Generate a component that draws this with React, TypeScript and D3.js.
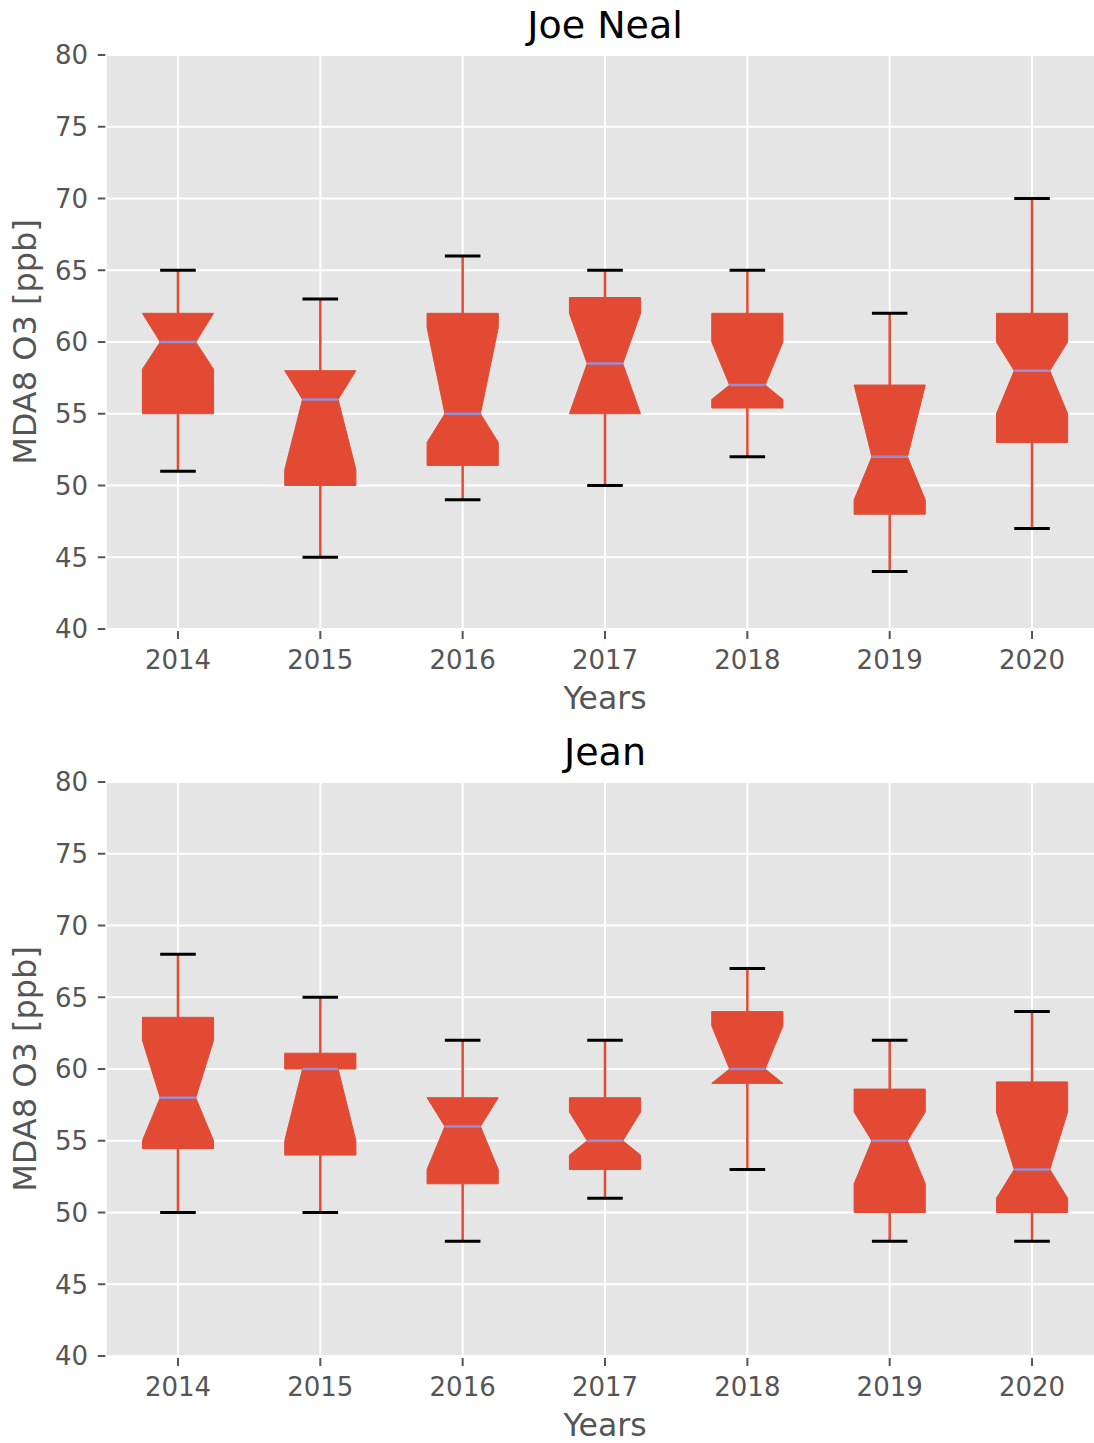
import React from "react";
import * as d3 from "d3";

const years = ["2014", "2015", "2016", "2017", "2018", "2019", "2020"];
const yTicks = [40, 45, 50, 55, 60, 65, 70, 75, 80];

const titles = ["Joe Neal", "Jean"];

// Joe Neal
const joeWhiskerLo = [51, 45, 49, 50, 52, 44, 47];
const joeQ1 = [55, 50, 51.4, 55, 55.4, 48, 53];
const joeNotchLo = [58.1, 51.1, 53, 55, 56, 49, 55];
const joeMedian = [60, 56, 55, 58.5, 57, 52, 58];
const joeNotchHi = [62, 58, 61, 62, 60, 57, 60];
const joeQ3 = [62, 58, 62, 63.1, 62, 57, 62];
const joeWhiskerHi = [65, 63, 66, 65, 65, 62, 70];

// Jean
const jeanWhiskerLo = [50, 50, 48, 51, 53, 48, 48];
const jeanQ1 = [54.45, 54, 52, 53, 59, 50, 50];
const jeanNotchLo = [55, 55, 53, 54, 59, 52, 51];
const jeanMedian = [58, 60, 56, 55, 60, 55, 53];
const jeanNotchHi = [62, 60, 58, 57, 63, 57, 57];
const jeanQ3 = [63.6, 61.1, 58, 58, 64, 58.6, 59.1];
const jeanWhiskerHi = [68, 65, 62, 62, 67, 62, 64];

const panelsData = [
  { lo: joeWhiskerLo, q1: joeQ1, cilo: joeNotchLo, med: joeMedian, cihi: joeNotchHi, q3: joeQ3, hi: joeWhiskerHi },
  { lo: jeanWhiskerLo, q1: jeanQ1, cilo: jeanNotchLo, med: jeanMedian, cihi: jeanNotchHi, q3: jeanQ3, hi: jeanWhiskerHi },
];

const W = 1094;
const H = 1443;
const FONT = "'DejaVu Sans', sans-serif";
const RED = "#E24A33";
const MED = "#988ED5";
const BG = "#E5E5E5";
const TXT = "#555555";

function Panel({ idx, top }: { idx: number; top: number }) {
  const d = panelsData[idx];
  const x = d3.scaleLinear().domain([0.5, 7.5]).range([106.8, 1103.2]);
  const y = d3.scaleLinear().domain([40, 80]).range([top + 574, top]);
  const unit = x(1) - x(0);
  const halfBox = unit * 0.25;
  const halfNotch = unit * 0.125;
  const line = d3.line<[number, number]>().x((p) => p[0]).y((p) => p[1]);

  return (
    <g>
      <rect x={x(0.5)} y={y(80)} width={x(7.5) - x(0.5)} height={y(40) - y(80)} fill={BG} />
      {yTicks.map((t) => (
        <line key={"gy" + t} x1={x(0.5)} x2={x(7.5)} y1={y(t)} y2={y(t)} stroke="#fff" strokeWidth={2} />
      ))}
      {years.map((_, i) => (
        <line key={"gx" + i} x1={x(i + 1)} x2={x(i + 1)} y1={y(40)} y2={y(80)} stroke="#fff" strokeWidth={2} />
      ))}
      {/* y ticks */}
      {yTicks.map((t) => (
        <g key={"ty" + t}>
          <line x1={x(0.5) - 9} x2={x(0.5) - 1.5} y1={y(t)} y2={y(t)} stroke={TXT} strokeWidth={2} />
          <text x={88} y={y(t)} dy="0.36em" textAnchor="end" fontFamily={FONT} fontSize={26} fill={TXT}>
            {t}
          </text>
        </g>
      ))}
      {/* x ticks */}
      {years.map((yr, i) => (
        <g key={"tx" + i}>
          <line x1={x(i + 1)} x2={x(i + 1)} y1={y(40) + 2} y2={y(40) + 10} stroke={TXT} strokeWidth={2} />
          <text x={x(i + 1)} y={y(40) + 40} textAnchor="middle" fontFamily={FONT} fontSize={26} fill={TXT}>
            {yr}
          </text>
        </g>
      ))}
      {/* boxes */}
      {years.map((_, i) => {
        const c = x(i + 1);
        const L = c - halfBox;
        const R = c + halfBox;
        const nL = c - halfNotch;
        const nR = c + halfNotch;
        const pts: [number, number][] = [
          [L, y(d.q1[i])],
          [R, y(d.q1[i])],
          [R, y(d.cilo[i])],
          [nR, y(d.med[i])],
          [R, y(d.cihi[i])],
          [R, y(d.q3[i])],
          [L, y(d.q3[i])],
          [L, y(d.cihi[i])],
          [nL, y(d.med[i])],
          [L, y(d.cilo[i])],
          [L, y(d.q1[i])],
        ];
        return (
          <g key={"b" + i}>
            <line x1={c} x2={c} y1={y(d.q1[i])} y2={y(d.lo[i])} stroke={RED} strokeWidth={2.5} />
            <line x1={c} x2={c} y1={y(d.q3[i])} y2={y(d.hi[i])} stroke={RED} strokeWidth={2.5} />
            <line x1={nL} x2={nR} y1={y(d.lo[i])} y2={y(d.lo[i])} stroke="#000" strokeWidth={3} />
            <line x1={nL} x2={nR} y1={y(d.hi[i])} y2={y(d.hi[i])} stroke="#000" strokeWidth={3} />
            <path d={line(pts) + "Z"} fill={RED} stroke={RED} strokeWidth={1} strokeLinejoin="miter" />
            <line x1={nL} x2={nR} y1={y(d.med[i])} y2={y(d.med[i])} stroke={MED} strokeWidth={2.5} />
          </g>
        );
      })}
      <text x={(x(0.5) + x(7.5)) / 2} y={top - 17} textAnchor="middle" fontFamily={FONT} fontSize={38} fill="#000">
        {titles[idx]}
      </text>
      <text x={(x(0.5) + x(7.5)) / 2} y={y(40) + 80} textAnchor="middle" fontFamily={FONT} fontSize={31.5} fill={TXT}>
        Years
      </text>
      <text
        transform={`translate(36,${(y(40) + y(80)) / 2}) rotate(-90)`}
        textAnchor="middle"
        fontFamily={FONT}
        fontSize={32}
        fill={TXT}
      >
        MDA8 O3 [ppb]
      </text>
    </g>
  );
}

export default function App() {
  return (
    <svg
      width={W}
      height={H}
      viewBox={`0 0 ${W} ${H}`}
      style={{ position: "absolute", left: 0, top: 0, background: "#fff", overflow: "hidden" }}
    >
      <rect x={0} y={0} width={W} height={H} fill="#fff" />
      <Panel idx={0} top={55} />
      <Panel idx={1} top={782} />
    </svg>
  );
}
